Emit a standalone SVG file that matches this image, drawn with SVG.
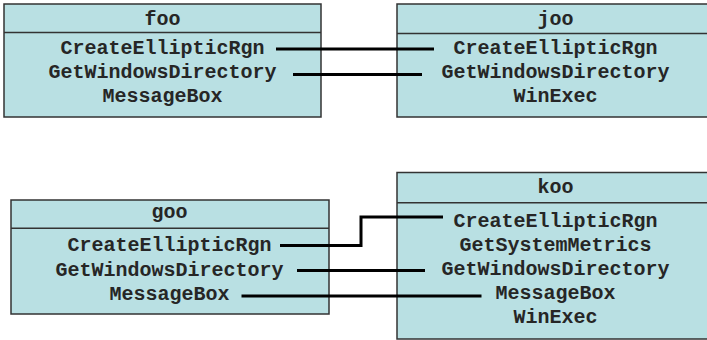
<svg xmlns="http://www.w3.org/2000/svg" width="707" height="340" viewBox="0 0 707 340">
  <style>
    .box { fill: #b9e0e3; stroke: #333333; stroke-width: 1.5; }
    .div { stroke: #333333; stroke-width: 1.5; fill: none; }
    .lbl { font-family: "Liberation Mono", "Courier New", monospace; font-weight: bold; font-size: 20px; fill: #262626; text-anchor: middle; }
    .wire { stroke: #000000; stroke-width: 3; fill: none; }
  </style>
  <rect width="707" height="340" fill="#ffffff"/>

  <g id="foo">
    <rect class="box" x="4" y="4" width="317" height="113"/>
    <line class="div" x1="4" y1="32.5" x2="321" y2="32.5"/>
    <text class="lbl" x="162.5" y="25">foo</text>
    <text class="lbl" x="162.5" y="54">CreateEllipticRgn</text>
    <text class="lbl" x="162.5" y="78">GetWindowsDirectory</text>
    <text class="lbl" x="162.5" y="102">MessageBox</text>
  </g>

  <g id="joo">
    <rect class="box" x="397" y="4" width="320" height="113"/>
    <line class="div" x1="397" y1="33.5" x2="717" y2="33.5"/>
    <text class="lbl" x="555.5" y="25">joo</text>
    <text class="lbl" x="555.5" y="54">CreateEllipticRgn</text>
    <text class="lbl" x="555.5" y="78">GetWindowsDirectory</text>
    <text class="lbl" x="555.5" y="102">WinExec</text>
  </g>

  <g id="goo">
    <rect class="box" x="11" y="200" width="318" height="114"/>
    <line class="div" x1="11" y1="228.3" x2="329" y2="228.3"/>
    <text class="lbl" x="169.5" y="218">goo</text>
    <text class="lbl" x="169.5" y="251">CreateEllipticRgn</text>
    <text class="lbl" x="169.5" y="275.5">GetWindowsDirectory</text>
    <text class="lbl" x="169.5" y="299.5">MessageBox</text>
  </g>

  <g id="koo">
    <rect class="box" x="397" y="172.5" width="320" height="166.5"/>
    <line class="div" x1="397" y1="202.7" x2="717" y2="202.7"/>
    <text class="lbl" x="555.5" y="193">koo</text>
    <text class="lbl" x="555.5" y="226.5">CreateEllipticRgn</text>
    <text class="lbl" x="555.5" y="250.5">GetSystemMetrics</text>
    <text class="lbl" x="555.5" y="275">GetWindowsDirectory</text>
    <text class="lbl" x="555.5" y="299">MessageBox</text>
    <text class="lbl" x="555.5" y="322.5">WinExec</text>
  </g>

  <g id="connectors">
    <line class="wire" x1="276" y1="49" x2="434" y2="49"/>
    <line class="wire" x1="293" y1="74.5" x2="422" y2="74.5"/>
    <polyline class="wire" points="280,245.5 361,245.5 361,217 443,217"/>
    <line class="wire" x1="297" y1="270.5" x2="425" y2="270.5"/>
    <line class="wire" x1="241.5" y1="296" x2="481.5" y2="296"/>
  </g>
</svg>
